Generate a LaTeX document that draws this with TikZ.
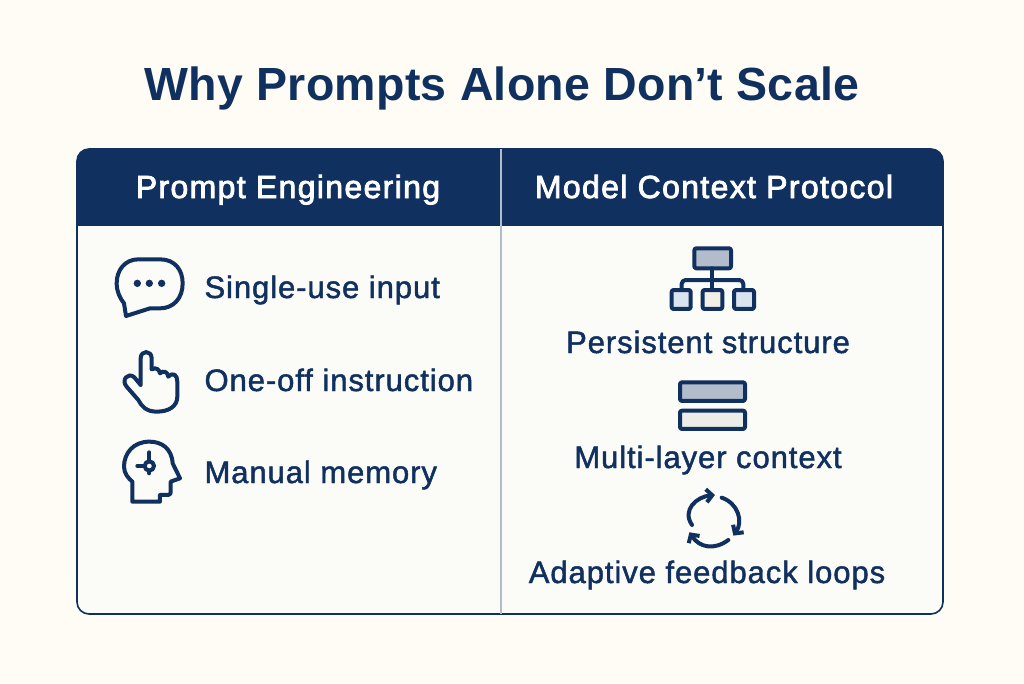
\documentclass[tikz,border=0pt]{standalone}
\usepackage{fontspec}
\setmainfont{Liberation Sans}
\usetikzlibrary{arrows.meta}
\definecolor{navy}{HTML}{10305F}
\definecolor{paper}{HTML}{FEFCF5}
\definecolor{panelfill}{HTML}{FBFBF8}
\definecolor{slate}{HTML}{B3BCCB}
\definecolor{pale}{HTML}{D9E4EE}
\definecolor{cream}{HTML}{F4F0E6}
\definecolor{mist}{HTML}{ECECE8}
\newfontfamily\headfont[FakeBold=2.5, LetterSpace=4.2]{Liberation Sans}
\newfontfamily\itemfont[FakeBold=1.5, LetterSpace=3]{Liberation Sans}
\newfontfamily\titlefont[LetterSpace=0.6]{Liberation Sans}
\tikzset{
	head/.style={text=white, anchor=base, font=\headfont\fontsize{32}{36}\selectfont},
	item/.style={text=navy, anchor=base west, font=\itemfont\fontsize{31}{36}\selectfont},
	caption/.style={text=navy, anchor=base, font=\itemfont\fontsize{31}{36}\selectfont},
	icon/.style={draw=navy, line width=4pt, line join=round, line cap=round},
	loop/.style={icon, -{Straight Barb[length=6pt, width=13pt]}},
}
\begin{document}
\begin{tikzpicture}[x=1pt, y=-1pt]
		%%%%% PAGE %%%%%
		\useasboundingbox[fill=paper] (0, 0) rectangle (1024, 683);
		
		\node[text=navy, anchor=base, font=\titlefont\fontsize{46.5}{54}\selectfont\bfseries] (title) at (502, 100) {Why Prompts Alone Don’t Scale};
		
		%%%%% TABLE %%%%%
		\fill[panelfill, rounded corners=12] (77, 149) rectangle (943, 614);
		\begin{scope}
			\clip[rounded corners=12] (77, 149) rectangle (943, 614);
			\fill[navy] (77, 149) rectangle (943, 226);
		\end{scope}
		\draw[navy, line width=1.6pt, rounded corners=12] (77, 149) rectangle (943, 614);
		\coordinate (divtop) at (501, 149);
		\coordinate (divbot) at (501, 614);
		\draw[color=slate, line width=1.2pt] (divtop) -- (divbot);
		
		\node[head] (left) at (288, 198) {Prompt Engineering};
		\node[head] (right) at (714, 198) {Model Context Protocol};
		
		\node[item] (single) at (201, 298) {Single-use input};
		\node[item] (oneoff) at (201, 391) {One-off instruction};
		\node[item] (memory) at (201, 483) {Manual memory};
		
		\node[caption] (persist) at (708, 353) {Persistent structure};
		\node[caption] (layer) at (708, 468) {Multi-layer context};
		\node[caption] (loops) at (707, 583) {Adaptive feedback loops};
		
		%%%%% LEFT ICONS %%%%%
		\begin{scope}[shift={(100, 240)}, x=0.3333pt, y=-0.3333pt]
			% bubble
			\draw[icon] (115, 58) -- (180, 58) .. controls (225, 58) and (248, 90) .. (248, 130) .. controls (248, 175) and (220, 205) .. (180, 205) -- (150, 205) -- (78, 228) -- (72, 190) .. controls (60, 175) and (50, 155) .. (50, 130) .. controls (50, 90) and (75, 58) .. (115, 58) -- cycle;
			\fill[navy] (112, 130) circle (11);
			\fill[navy] (148, 130) circle (11);
			\fill[navy] (185, 130) circle (11);
			% hand
			\draw[icon] (122, 435) -- (122, 355) .. controls (122, 330) and (155, 330) .. (155, 355) -- (155, 388) .. controls (170, 380) and (178, 390) .. (180, 400) .. controls (190, 390) and (203, 395) .. (205, 410) .. controls (220, 395) and (232, 405) .. (232, 425) -- (232, 470) .. controls (232, 500) and (205, 515) .. (170, 515) .. controls (140, 515) and (125, 500) .. (115, 480) -- (80, 440) .. controls (62, 420) and (85, 395) .. (103, 412) -- (122, 435);
			% head
			\draw[icon] (97, 725) -- (97, 785) -- (180, 785) -- (180, 765) -- (205, 765) .. controls (212, 765) and (212, 760) .. (212, 750) -- (212, 725) -- (240, 715) -- (218, 670) .. controls (215, 625) and (185, 605) .. (148, 605) .. controls (100, 605) and (72, 640) .. (72, 680) .. controls (72, 700) and (85, 715) .. (97, 725);
			\draw[icon] (148, 678) circle (14);
			\draw[icon] (148, 664) -- (148, 637);
			\draw[icon] (134, 678) -- (112, 678);
			\draw[icon] (148, 692) -- (148, 700);
		\end{scope}
		
		%%%%% RIGHT ICONS %%%%%
		\begin{scope}[shift={(650, 235)}, x=0.3333pt, y=-0.3333pt]
			% tree
			\draw[icon, fill=slate, rounded corners=2] (133, 40) rectangle (243, 100);
			\draw[icon] (187, 100) -- (187, 165);
			\draw[icon, rounded corners=4] (95, 165) -- (95, 135) -- (280, 135) -- (280, 165);
			\draw[icon, fill=pale, rounded corners=2] (65, 165) rectangle (122, 222);
			\draw[icon, fill=cream, rounded corners=2] (158, 165) rectangle (217, 222);
			\draw[icon, fill=pale, rounded corners=2] (252, 165) rectangle (312, 222);
			% layers
			\draw[icon, fill=slate, rounded corners=2] (90, 442) rectangle (285, 498);
			\draw[icon, fill=mist, rounded corners=2] (90, 527) rectangle (285, 582);
			% cycle
			\draw[loop] (126, 870) .. controls (95, 825) and (140, 785) .. (195, 780);
			\draw[loop] (215, 788) .. controls (265, 805) and (280, 860) .. (250, 902);
			\draw[loop] (235, 915) .. controls (195, 945) and (150, 940) .. (118, 892);
		\end{scope}
		
		%%%%% END %%%%%
	\end{tikzpicture}
\end{document}
